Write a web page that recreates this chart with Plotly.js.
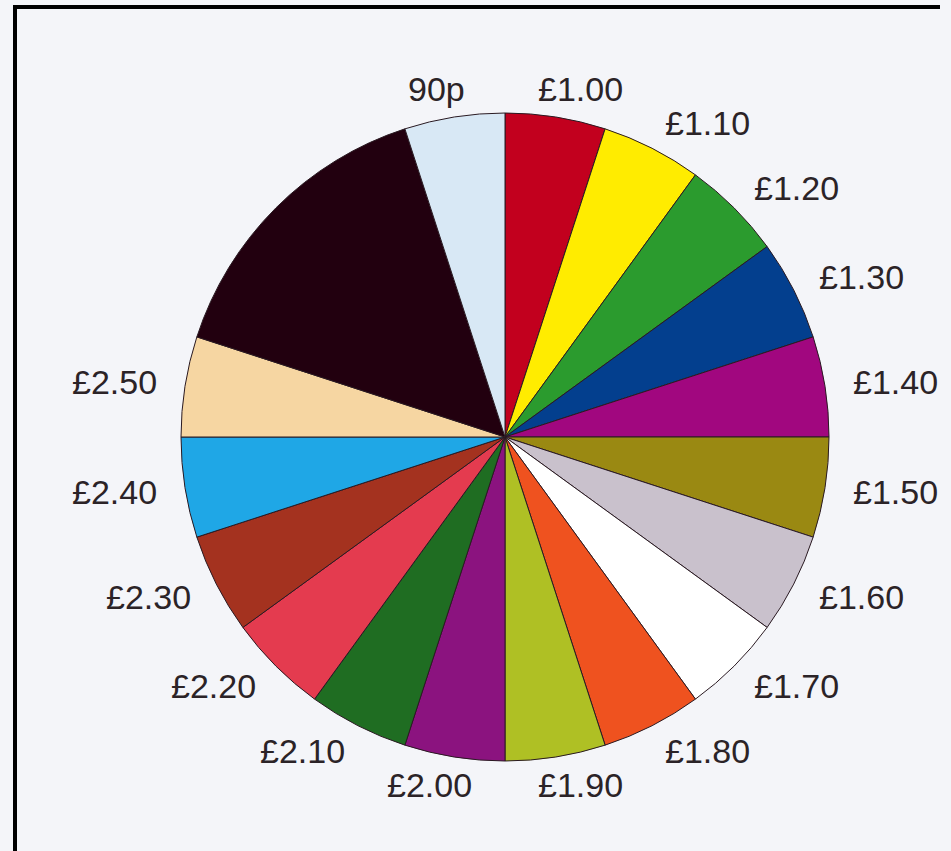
<!DOCTYPE html>
<html>
<head>
<meta charset="utf-8">
<script src="https://cdn.plot.ly/plotly-3.0.1.min.js"></script>
<style>html,body{margin:0;padding:0;background:#f4f5f9;}</style>
</head>
<body>
<div id="chart" style="width:951px;height:851px;"></div>
<script>
// Slices listed clockwise starting at 12 o'clock
const categories = ['£1.00','£1.10','£1.20','£1.30','£1.40','£1.50','£1.60','£1.70','£1.80',
                    '£1.90','£2.00','£2.10','£2.20','£2.30','£2.40','£2.50','(unlabelled)','90p'];
const sliceText  = ['£1.00','£1.10','£1.20','£1.30','£1.40','£1.50','£1.60','£1.70','£1.80',
                    '£1.90','£2.00','£2.10','£2.20','£2.30','£2.40','£2.50','','90p'];
const values     = [1,1,1,1,1,1,1,1,1,1,1,1,1,1,1,1,3,1];
const sliceColors = ['#c2001e','#ffec00','#2b9b2e','#033f8e','#a1077f','#9a8912','#c9c1cc','#ffffff','#ef521f',
                     '#afc024','#8b137f','#1f6d22','#e43b4f','#a4321f','#1fa7e6','#f6d6a2','#22000f','#d8e8f5'];

const W = 951, H = 851;
const cx = 505, cy = 437, r = 324;
const labelFont = { family: 'Liberation Sans, Arial, sans-serif', size: 34, color: '#2b2327' };

const trace = {
  type: 'pie',
  labels: categories,
  values: values,
  textinfo: 'none',
  sort: false,
  direction: 'clockwise',
  rotation: 0,
  automargin: false,
  hoverinfo: 'label+value',
  marker: { colors: sliceColors, line: { color: '#2a1a22', width: 1 } },
  domain: { x: [(cx - r) / W, (cx + r) / W], y: [(H - cy - r) / H, (H - cy + r) / H] },
  showlegend: false
};

// Outside labels placed at each slice's mid-angle, derived from the values
const ctx = document.createElement('canvas').getContext('2d');
ctx.font = labelFont.size + 'px Liberation Sans';
const total = values.reduce((a, b) => a + b, 0);
const R = r + 28;
let cum = 0;
const annotations = [];
values.forEach((v, i) => {
  const mid = (cum + v / 2) / total * 2 * Math.PI;
  cum += v;
  if (!sliceText[i]) return;
  const s = Math.sin(mid), c = Math.cos(mid);
  const hw = ctx.measureText(sliceText[i]).width / 2;
  const px = cx + R * s + hw * Math.sign(s) * Math.min(1, 3 * Math.abs(s));
  const py = cy - R * c;
  annotations.push({
    xref: 'paper', yref: 'paper', x: px / W, y: 1 - py / H,
    xanchor: 'center', yanchor: 'middle', showarrow: false,
    text: sliceText[i], font: labelFont
  });
});

const layout = {
  width: W, height: H,
  margin: { l: 0, r: 0, t: 0, b: 0 },
  paper_bgcolor: '#f4f5f9',
  showlegend: false,
  annotations: annotations,
  shapes: [
    { type: 'line', xref: 'paper', yref: 'paper', x0: 13 / W, x1: 940 / W, y0: 1 - 7 / H, y1: 1 - 7 / H,
      line: { color: '#000000', width: 4 } },
    { type: 'line', xref: 'paper', yref: 'paper', x0: 15 / W, x1: 15 / W, y0: 1 - 5 / H, y1: 0,
      line: { color: '#000000', width: 4 } }
  ]
};

Plotly.newPlot('chart', [trace], layout, { displayModeBar: false, staticPlot: true });
</script>
</body>
</html>
